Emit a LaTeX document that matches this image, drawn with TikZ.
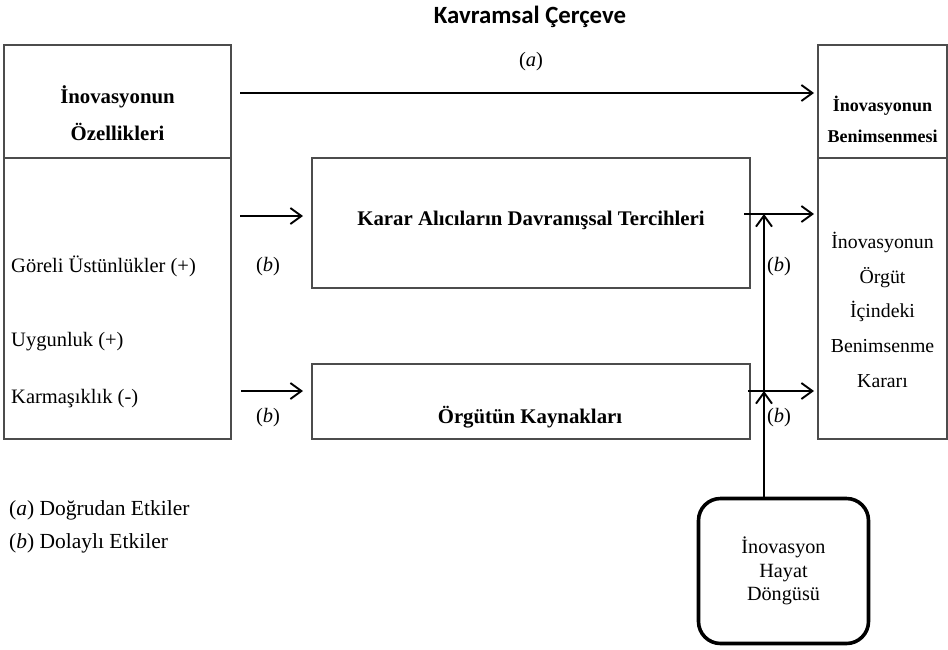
\documentclass[tikz,border=0pt]{standalone}
\usepackage{fontspec}
\setmainfont{Liberation Serif}
\newfontfamily\titlefont{Carlito}
\usetikzlibrary{arrows.meta}
\begin{document}
\begin{tikzpicture}[x=1pt,y=-1pt,
  box/.style={draw=black!70, line width=1.2pt, inner sep=0pt, outer sep=0pt},
  arr/.style={-{Straight Barb[length=11pt,width=16pt,line width=1.9pt]}, line width=1.9pt},
  txt/.style={inner sep=0pt, anchor=base, font=\fontsize{20.5}{24}\selectfont},
  txtl/.style={txt, anchor=base west},
  btxt/.style={txt, font=\fontsize{20.8}{24}\selectfont\bfseries},
  rbtxt/.style={txt, font=\fontsize{18}{24}\selectfont\bfseries},
  rtxt/.style={txt, font=\fontsize{19.8}{24}\selectfont},
  legtxt/.style={txtl, font=\fontsize{21.5}{24}\selectfont},
  hdbox/.style={draw=black, line width=3.6pt, rounded corners=22pt, minimum width=170pt, minimum height=145pt, inner sep=0pt, align=center, font=\fontsize{20.2}{23.5}\selectfont},
]
\useasboundingbox (0,0) rectangle (948,649);

% title
\node[inner sep=0pt, anchor=base, font=\titlefont\fontsize{24.8}{28}\selectfont\bfseries] (title) at (530,23) {Kavramsal Çerçeve};
\node[txt] (la) at (531,66) {(\textit{a})};

% boxes
\node[box, minimum width=227pt, minimum height=113pt] (lh) at (117.5,101.5) {};
\node[box, minimum width=227pt, minimum height=281pt] (lb) at (117.5,298.5) {};
\node[box, minimum width=129pt, minimum height=113pt] (rh) at (882.5,101.5) {};
\node[box, minimum width=129pt, minimum height=281pt] (rb) at (882.5,298.5) {};
\node[box, minimum width=438pt, minimum height=130pt] (ka) at (531,223) {};
\node[box, minimum width=438pt, minimum height=75pt] (ok) at (531,401.5) {};
\node[hdbox] (hd) at (783.5,571) {İnovasyon\\Hayat\\Döngüsü};

% box texts
\node[btxt] (lh1) at (117.5,103) {İnovasyonun};
\node[btxt] (lh2) at (117.5,140) {Özellikleri};
\node[txtl] (g1) at (11,272) {Göreli Üstünlükler (+)};
\node[txtl] (g2) at (11,346) {Uygunluk (+)};
\node[txtl] (g3) at (11,403) {Karmaşıklık (-)};

\node[rbtxt] (rh1) at (882.5,111) {İnovasyonun};
\node[rbtxt] (rh2) at (882.5,142) {Benimsenmesi};
\node[rtxt] (r1) at (882.5,248) {İnovasyonun};
\node[rtxt] (r2) at (882.5,283) {Örgüt};
\node[rtxt] (r3) at (882.5,317) {İçindeki};
\node[rtxt] (r4) at (882.5,352) {Benimsenme};
\node[rtxt] (r5) at (882.5,387) {Kararı};

\node[btxt] (kat) at (531,225) {Karar Alıcıların Davranışsal Tercihleri};
\node[btxt] (okt) at (530,423) {Örgütün Kaynakları};

% (b) labels
\node[txt] (b1) at (268,271) {(\textit{b})};
\node[txt] (b2) at (268,422) {(\textit{b})};
\node[txt] (b3) at (779,271) {(\textit{b})};
\node[txt] (b4) at (779,422) {(\textit{b})};

% legend
\node[legtxt] (leg1) at (9,515) {(\textit{a}) Doğrudan Etkiler};
\node[legtxt] (leg2) at (9,548) {(\textit{b}) Dolaylı Etkiler};

% rows
\coordinate (ya) at (0,93);
\coordinate (yb1) at (0,216);
\coordinate (yb2) at (0,391);
\coordinate (yr1) at (0,214);
\coordinate (v) at (764,0);

% connectors
\draw[arr, shorten <=9pt, shorten >=4pt] (lh.east |- ya) -- (rh.west |- ya);
\draw[arr, shorten <=9pt, shorten >=9pt] (lb.east |- yb1) -- (ka.west |- yb1);
\draw[arr, shorten <=10pt, shorten >=9pt] (lb.east |- yb2) -- (ok.west |- yb2);
\draw[arr, shorten <=-6pt, shorten >=4pt] (ka.east |- yr1) -- (rb.west |- yr1);
\draw[arr, shorten <=-2pt, shorten >=4pt] (ok.east |- yb2) -- (rb.west |- yb2);
\draw[arr] (hd.north -| v) -- (v |- yb2);
\draw[arr] (v |- yb2) -- (v |- yr1);
\end{tikzpicture}
\end{document}
